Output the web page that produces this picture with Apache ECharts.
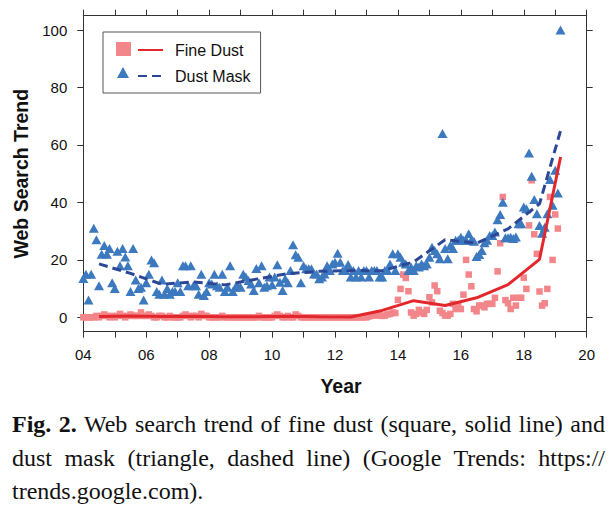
<!DOCTYPE html>
<html>
<head>
<meta charset="utf-8">
<script src="https://cdn.jsdelivr.net/npm/echarts@6/dist/echarts.min.js"></script>
<style>
  html, body { margin: 0; padding: 0; background: #fff; }
  #chart { position: absolute; left: 0; top: 0; width: 616px; height: 507px; }
  #caption { position: absolute; left: 12px; top: 408px; width: 593px;
    font-family: "Liberation Serif", "Times New Roman", serif; font-size: 24px; color: #111; }
  #caption .ln { height: 33.5px; line-height: 33.5px; white-space: nowrap; }
  #caption .j { text-align: justify; text-align-last: justify; white-space: normal; }
</style>
</head>
<body>
<div id="chart"></div>
<div id="caption">
  <div class="ln j"><b>Fig. 2.</b> Web search trend of fine dust (square, solid line) and</div>
  <div class="ln j">dust mask (triangle, dashed line) (Google Trends: https://</div>
  <div class="ln">trends.google.com).</div>
</div>
<script>
// ---- data (monthly Google Trends, Jan 2004 .. Mar 2019) ----
const startYear = 2004;
const fineDust = [
  0,0,0,0,0,0.5,0,0.5,1,0.5,0,0.5,            // 2004
  0,0.5,1.2,0.5,0,0.5,1,0.5,0.5,0.5,1.7,0.5,  // 2005
  0.5,1,0.5,0,0,0.5,0.5,0,0,0.5,0,0,          // 2006
  0,0,0.5,1,0.5,0,0.5,0.5,0,1.2,0.5,0.5,      // 2007
  0,0,0,0,0,0.5,0,0,0,0,0,0,                  // 2008
  0,0,0,0,0,0,0,0.5,0,0,0,0,                  // 2009
  0,0.5,1,0.5,0,0,0.5,0,0,1,0.5,0,            // 2010
  0,0,0,0,0,0,0,0,0,0,0,0,                    // 2011
  0,0,0,0,0,0,0,0,0,0,0,0,                    // 2012
  0,0.3,0.6,0.6,1.2,0.6,0.5,0.6,1,1.2,1.7,1.5,          // 2013
  6.1,9.9,14.9,13.7,9.1,1.7,0.6,1.2,2.6,1.7,1.2,2.6,    // 2014
  7,5.2,11.1,9.1,2.3,1.5,0.6,0.6,1.2,4.7,2.9,4.1,       // 2015
  2.9,7.9,20,14.9,10.8,2.9,2.1,4.1,4.1,3.5,4.7,4.7,     // 2016
  4.7,6.8,16,25.8,41.9,6,4.9,2.9,6.8,4.1,6.8,6.8,       // 2017
  13.8,9.9,32,47.7,28.9,22.1,9,4.1,4.9,9.9,41.9,20,     // 2018
  35.8,30.9,null                                        // 2019
];
const dustMask = [
  13.5,15,6,15,31,27,11,22,25,22,24,12,       // 2004
  10,23,18,24,21,18,9,24,13,10,10.5,6,        // 2005
  12,15,20,19,9,8,13,8,10,8,9,9,              // 2006
  12,9,18,18,11,18,11,11,8,15,7.6,9,          // 2007
  12,11.6,15,11,10.5,15,9,10.5,18,9,10.5,11,  // 2008
  10.5,15,14,12.8,11.6,9.3,17,12,18,10.5,11,14,        // 2009
  11.3,14,18.3,12.2,9.3,13.4,12,16.3,25.3,21.8,20.9,12, // 2010
  18,16.9,16.9,16.9,15.1,15.1,13.4,14,15.1,18,16.3,18.6, // 2011
  19.2,22.3,19.2,16.3,16.3,18.4,14,16.3,14,16.3,14,16.3, // 2012
  16.3,14,16.3,16.3,16.3,14,14,16.3,16.3,18.6,22.1,16.3, // 2013
  22.1,20.9,19.2,18.6,16.3,17.5,16.3,18,17.5,18.6,18,18.6, // 2014
  20.9,24.4,23.3,22.1,20.4,64,24,20.4,25,24,26.8,26.8,   // 2015
  27.9,26.8,26.8,29.1,26.8,26.5,21.2,21.9,23.3,26,26.8,28.5, // 2016
  28.5,29.7,34,35.8,40.1,27.7,27.7,27.9,27.4,28,32.6,32.6,   // 2017
  38.4,37.8,57.2,49.1,41,36.1,32,29.3,31.4,36.1,48,39,       // 2018
  51.2,43.3,100                                              // 2019
];
// yearly trend lines
const trendYears = [2004.5,2005.5,2006.5,2007.5,2008.5,2009.5,2010.5,2011.5,2012.5,2013.5,2014.5,2015.5,2016.5,2017.5,2018.5,2019.17];
const fineDustTrend = [0.3,0.5,0.3,0.4,0.2,0.2,0.4,0.2,0.1,2.4,5.8,4.1,6.8,11.4,20.2,55.8];
const dustMaskTrend = [18.6,15.3,11.5,12.3,11.3,13.3,15.2,16,16.3,16.2,19.3,27,25.8,30.8,39.5,65];
// ticks
const xTickValues = [2004,2006,2008,2010,2012,2014,2016,2018,2020];
const xTickLabels = ['04','06','08','10','12','14','16','18','20'];
const xMinorTicks = [2004,2005,2006,2007,2008,2009,2010,2011,2012,2013,2014,2015,2016,2017,2018,2019,2020];
const yTickValues = [0,20,40,60,80,100];
const yTickLabels = ['0','20','40','60','80','100'];

const monthly = (arr) => arr.map((v, i) => [startYear + i / 12, v]);
const pairs = (xs, ys) => xs.map((x, i) => [x, ys[i]]);

const RED_PT = '#F2868A', RED_LN = '#E3282D', BLUE_PT = '#3C79BE', BLUE_LN = '#2D4797';
const AX = '#333';
const sans = '"Liberation Sans", Arial, sans-serif';

const chart = echarts.init(document.getElementById('chart'), null, { renderer: 'svg' });
const axisCommon = {
  axisLine: { show: true, onZero: false, lineStyle: { color: AX, width: 1 } },
  splitLine: { show: false },
};
chart.setOption({
  animation: false,
  grid: { left: 83.3, right: 29.3, top: 15.7, bottom: 175.3, containLabel: false },
  xAxis: [
    Object.assign({
      type: 'value', position: 'bottom', min: 2004, max: 2020,
      axisTick: { show: true, length: 6, lineStyle: { color: AX }, customValues: xMinorTicks },
      axisLabel: { show: true, margin: 15, color: '#111', fontFamily: sans, fontSize: 15,
        customValues: xTickValues,
        formatter: (v) => xTickLabels[xTickValues.indexOf(Math.round(v))] },
      name: 'Year', nameLocation: 'middle', nameGap: 44,
      nameTextStyle: { fontFamily: sans, fontSize: 19.5, fontWeight: 'bold', color: '#111', padding: [0, 0, 0, 12] },
    }, axisCommon),
    Object.assign({
      type: 'value', position: 'top', min: 2004, max: 2020,
      axisTick: { show: true, length: 6, lineStyle: { color: AX }, customValues: xMinorTicks },
      axisLabel: { show: false },
    }, axisCommon),
  ],
  yAxis: [
    Object.assign({
      type: 'value', position: 'left', min: -5, max: 105,
      axisTick: { show: true, length: 6, lineStyle: { color: AX }, customValues: yTickValues },
      axisLabel: { show: true, margin: 16, color: '#111', fontFamily: sans, fontSize: 15,
        customValues: yTickValues,
        formatter: (v) => yTickLabels[yTickValues.indexOf(Math.round(v))] },
      name: 'Web Search Trend', nameLocation: 'middle', nameGap: 51, nameRotate: 90,
      nameTextStyle: { fontFamily: sans, fontSize: 19.5, fontWeight: 'bold', color: '#111' },
    }, axisCommon),
    Object.assign({
      type: 'value', position: 'right', min: -5, max: 105,
      axisTick: { show: true, length: 6, lineStyle: { color: AX }, customValues: yTickValues },
      axisLabel: { show: false },
    }, axisCommon),
  ],
  legend: [
    {
      data: ['Fine Dust', 'Dust Mask'], orient: 'vertical', left: 103, top: 32,
      padding: [10, 10, 9, 34], itemWidth: 25, itemHeight: 14, itemGap: 10,
      borderColor: '#555', borderWidth: 1, selectedMode: false,
      itemStyle: { opacity: 0 },
      textStyle: { fontFamily: sans, fontSize: 16, color: '#111', padding: [0, 0, 0, 7] },
    },
    {
      data: [{ name: 'fd_pts', icon: 'rect' }], left: 116, top: 42, padding: 0,
      itemWidth: 15, itemHeight: 14, selectedMode: false, formatter: () => '',
    },
    {
      data: [{ name: 'dm_pts', icon: 'triangle' }], left: 117, top: 67, padding: 0,
      itemWidth: 12, itemHeight: 11, selectedMode: false, formatter: () => '',
    },
  ],
  series: [
    { name: 'fd_pts', type: 'scatter', data: monthly(fineDust), symbol: 'rect', symbolSize: 6.5,
      itemStyle: { color: RED_PT, opacity: 1 }, z: 2 },
    { name: 'dm_pts', type: 'scatter', data: monthly(dustMask), symbol: 'triangle', symbolSize: [10, 9],
      itemStyle: { color: BLUE_PT, opacity: 1 }, z: 3 },
    { name: 'Fine Dust', type: 'line', data: pairs(trendYears, fineDustTrend), symbol: 'none',
      lineStyle: { color: RED_LN, width: 3 }, itemStyle: { color: RED_LN }, z: 4 },
    { name: 'Dust Mask', type: 'line', data: pairs(trendYears, dustMaskTrend), symbol: 'none',
      lineStyle: { color: BLUE_LN, width: 3, type: [9, 5] }, itemStyle: { color: BLUE_LN }, z: 5 },
  ],
});
</script>
</body>
</html>
